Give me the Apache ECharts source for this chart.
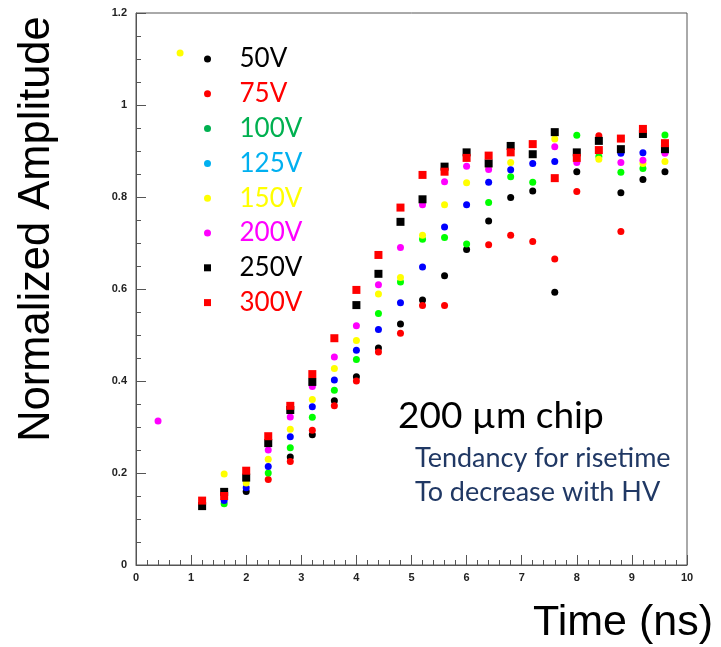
<!DOCTYPE html>
<html>
<head>
<meta charset="utf-8">
<script src="https://cdn.jsdelivr.net/npm/echarts@6/dist/echarts.min.js"></script>
<style>
html, body { margin: 0; padding: 0; background: #ffffff; }
#chart { width: 721px; height: 647px; }
</style>
</head>
<body>
<div id="chart"></div>
<script>
// Time grid (ns)
const times = [0.4, 0.8, 1.2, 1.6, 2.0, 2.4, 2.8, 3.2, 3.6, 4.0, 4.4, 4.8,
               5.2, 5.6, 6.0, 6.4, 6.8, 7.2, 7.6, 8.0, 8.4, 8.8, 9.2, 9.6];

// Normalized amplitude per bias voltage (null = no visible point)
const v50  = [null, null, null, null, 0.160, null, 0.235, 0.283, 0.357, 0.409, 0.472, 0.524,
              0.576, 0.629, 0.686, 0.748, 0.799, 0.813, 0.593, 0.855, null, 0.809, 0.838, 0.855];
const v75  = [null, null, null, null, null, 0.186, 0.225, 0.293, 0.346, 0.400, 0.463, 0.504,
              0.564, 0.564, null, 0.696, 0.717, 0.703, 0.665, 0.812, 0.933, 0.725, null, null];
const v100 = [null, null, null, 0.133, null, 0.200, 0.255, 0.321, 0.380, 0.447, 0.547, 0.615,
              0.708, 0.712, 0.698, 0.788, 0.844, 0.832, null, 0.934, 0.888, 0.854, 0.862, 0.935];
const v125 = [null, null, null, 0.140, 0.168, 0.214, 0.279, 0.344, 0.402, 0.467, 0.512, 0.570,
              0.648, 0.735, 0.783, 0.832, 0.859, 0.873, 0.877, null, null, 0.895, 0.896, 0.900];
const v150 = [null, 1.113, null, 0.198, 0.178, 0.230, 0.295, 0.360, 0.427, 0.488, 0.589, 0.625,
              0.717, 0.783, 0.831, 0.865, 0.875, null, 0.926, null, 0.882, null, 0.873, 0.877];
const v200 = [0.313, null, null, null, null, 0.250, 0.322, 0.388, 0.452, 0.520, 0.609, 0.690,
              0.783, 0.833, 0.867, 0.860, null, null, 0.909, 0.875, null, 0.875, 0.880, 0.895];
const v250 = [null, null, 0.128, 0.159, 0.190, 0.265, 0.337, 0.398, null, 0.565, 0.633, 0.746,
              0.795, 0.866, 0.897, 0.873, 0.911, 0.893, 0.941, 0.897, 0.922, 0.904, 0.937, 0.904];
const v300 = [null, null, 0.140, 0.150, 0.205, 0.280, 0.346, 0.415, 0.493, 0.598, 0.674, 0.777,
              0.848, 0.855, 0.885, 0.890, 0.897, 0.915, 0.841, 0.885, 0.902, 0.927, 0.948, 0.917];

const seriesNames = ['50V', '75V', '100V', '125V', '150V', '200V', '250V', '300V'];
const seriesValues = [v50, v75, v100, v125, v150, v200, v250, v300];
const markerColors = ['#000000', '#ff0000', '#00ff00', '#0000ff', '#ffff00', '#ff00ff', '#000000', '#ff0000'];
const markerShapes = ['circle', 'circle', 'circle', 'circle', 'circle', 'circle', 'rect', 'rect'];
const legendColors = ['#000000', '#ff0000', '#00b050', '#00b0f0', '#ffff00', '#ff00ff', '#000000', '#ff0000'];

const squarePath = 'path://M0,0L10,0L10,10L0,10Z';

function pairs(vals) {
  const out = [];
  vals.forEach(function (v, i) { if (v !== null) out.push([times[i], v]); });
  return out;
}

const series = seriesNames.map(function (name, k) {
  return {
    name: name,
    type: 'scatter',
    symbol: markerShapes[k],
    symbolSize: markerShapes[k] === 'rect' ? 8 : 7,
    itemStyle: { color: markerColors[k], opacity: 1 },
    emphasis: { disabled: true },
    data: pairs(seriesValues[k])
  };
});

const chart = echarts.init(document.getElementById('chart'), null, { renderer: 'canvas' });

const option = {
  animation: false,
  backgroundColor: '#ffffff',
  grid: {
    left: 136, right: 34, top: 13, bottom: 82,
    show: true, borderColor: '#555555', borderWidth: 1, backgroundColor: 'transparent'
  },
  legend: {
    orient: 'vertical',
    left: 199,
    top: 41,
    itemWidth: 54,
    itemHeight: 7,
    itemGap: 8.8,
    symbolKeepAspect: true,
    selectedMode: false,
    data: seriesNames.map(function (name, k) {
      return {
        name: name,
        icon: markerShapes[k] === 'rect' ? squarePath : 'circle',
        itemStyle: { color: legendColors[k] },
        textStyle: { color: legendColors[k] }
      };
    }),
    textStyle: { fontFamily: 'Lato', fontSize: 26, lineHeight: 26 }
  },
  xAxis: {
    type: 'value',
    min: 0, max: 10, interval: 1,
    axisLine: { show: true, lineStyle: { color: '#555555', width: 1 } },
    axisTick: { show: true, inside: true, length: 10, lineStyle: { color: '#555555' } },
    minorTick: { show: true, splitNumber: 5, length: 5, lineStyle: { color: '#555555' } },
    splitLine: { show: false },
    axisLabel: { color: '#222222', fontFamily: 'Liberation Sans', fontSize: 11, fontWeight: 'bold', margin: 7 }
  },
  yAxis: {
    type: 'value',
    min: 0, max: 1.2, interval: 0.2,
    axisLine: { show: true, lineStyle: { color: '#555555', width: 1 } },
    axisTick: { show: true, inside: true, length: 10, lineStyle: { color: '#555555' } },
    minorTick: { show: true, splitNumber: 4, length: 5, lineStyle: { color: '#555555' } },
    splitLine: { show: false },
    axisLabel: {
      color: '#222222', fontFamily: 'Liberation Sans', fontSize: 11, fontWeight: 'bold', margin: 9,
      formatter: function (v) { return String(Math.round(v * 10) / 10); }
    }
  },
  graphic: [
    { type: 'text', x: 37, y: 229, rotation: Math.PI / 2,
      style: { text: 'Normalized Amplitude', fontFamily: 'Liberation Sans', fontSize: 43.5,
               fill: '#000000', align: 'center', verticalAlign: 'middle' } },
    { type: 'text', left: 533, top: 602,
      style: { text: 'Time (ns)', fontFamily: 'Liberation Sans', fontSize: 43, fill: '#000000' } },
    { type: 'text', left: 398, top: 398,
      style: { text: '200 µm chip', fontFamily: 'Lato', fontSize: 37, fill: '#000000' } },
    { type: 'text', left: 415, top: 445,
      style: { text: 'Tendancy for risetime', fontFamily: 'Lato', fontSize: 27, fill: '#203864' } },
    { type: 'text', left: 415, top: 479,
      style: { text: 'To decrease with HV', fontFamily: 'Lato', fontSize: 27, fill: '#203864' } }
  ],
  series: series
};

chart.setOption(option);
</script>
</body>
</html>
